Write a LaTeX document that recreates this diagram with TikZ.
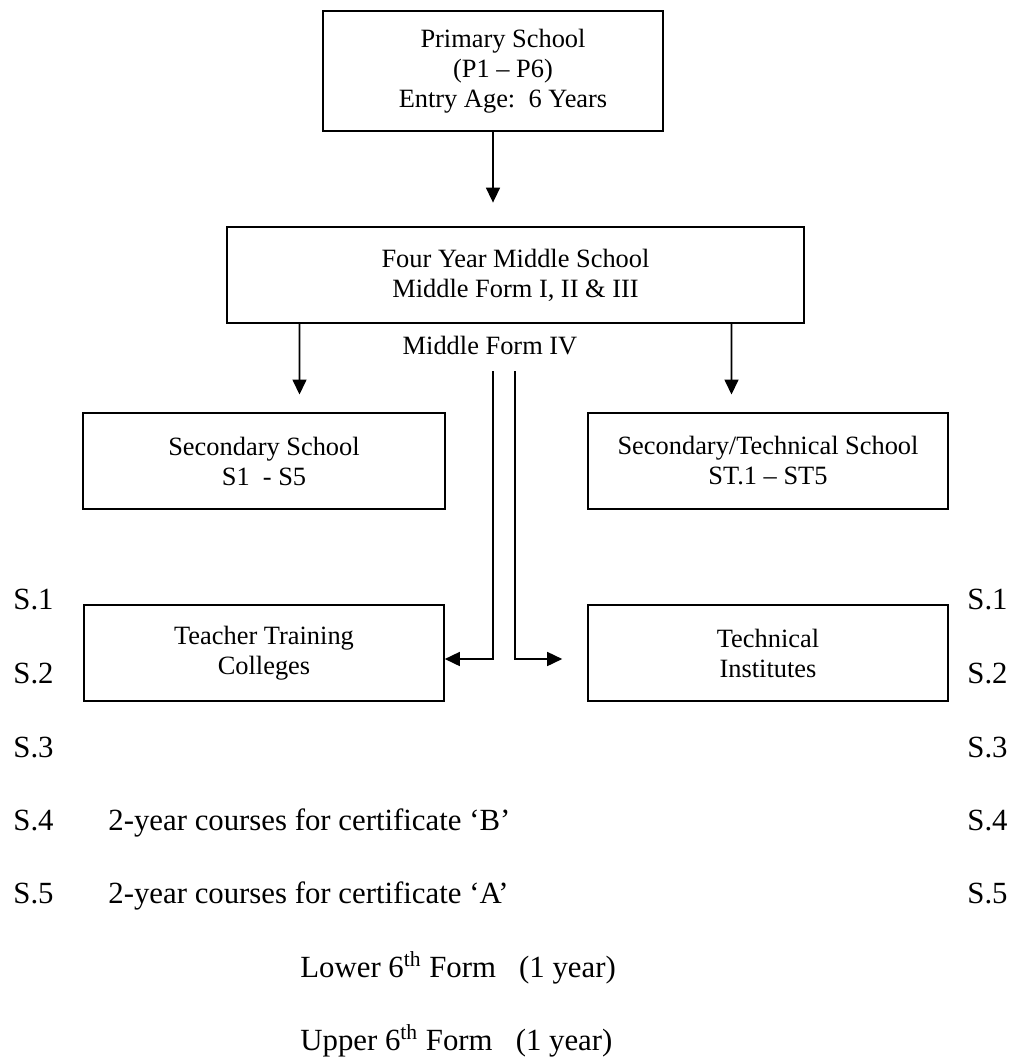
\documentclass[tikz,border=0pt]{standalone}
\usepackage{fontspec}
\setmainfont{Liberation Serif}
\usetikzlibrary{arrows.meta,calc}
\tikzset{
  stage/.style={draw, line width=.8pt, align=center, inner sep=0pt,
    minimum width=#1, minimum height=48pt},
  arr/.style={line width=.8pt, -{Triangle[length=7.5pt,width=7pt]}},
  body/.style={anchor=base west, inner sep=0pt, font=\fontsize{15.4}{18}\selectfont}
}
\begin{document}
\begin{tikzpicture}[x=.5pt,y=-.5pt,font=\fontsize{13.2}{15}\selectfont]
\useasboundingbox (0,0) rectangle (1020,1061);
\node[stage=170pt, minimum height=60pt] (prim) at (493,71) {\hspace*{10pt}\begin{tabular}{@{}c@{}}Primary School\\(P1 – P6)\\Entry Age:\ \ 6 Years\end{tabular}};
\node[stage=288.5pt] (mid) at (515.5,275) {Four Year Middle School\\Middle Form I, II \& III};
\node[stage=181pt] (sec) at (264,461) {Secondary School\\S1\ \ - S5};
\node[stage=180pt] (sect) at (768,461) {Secondary/Technical School\\ST.1 – ST5};
\node[stage=180pt] (ttc) at (264,653) {Teacher Training\\Colleges};
\node[stage=180pt] (tech) at (768,653) {Technical\\Institutes};
\node[anchor=base, inner sep=0pt] (mf4) at (490,354) {Middle Form IV};

\coordinate (la) at ([xshift=-108pt]mid.south);
\coordinate (ra) at ([xshift=108pt]mid.south);
\coordinate (ls) at (493,371);
\coordinate (rs) at (515,371);
\draw[arr] (prim.south) -- ($(prim.south)!.75!(prim.south |- mid.north)$);
\draw[arr] (la) -- ($(la)!.8!(la |- sec.north)$);
\draw[arr] (ra) -- ($(ra)!.8!(ra |- sect.north)$);
\draw[arr] (ls) |- ([yshift=-3pt]ttc.east);
\draw[arr] (rs) |- ([xshift=-12.5pt,yshift=-3pt]tech.west);

\foreach \n/\y in {1/609,2/683,3/757,4/830,5/903}{
  \node[body] (sl\n) at (13,\y) {S.\n};
  \node[body] (sr\n) at (967,\y) {S.\n};
}
\node[body] (cb) at (108,830) {2-year courses for certificate ‘B’};
\node[body] (ca) at (108,903) {2-year courses for certificate ‘A’};
\node[body] (lo) at (300,977) {Lower 6\textsuperscript{th} Form\ \ \ (1 year)};
\node[body] (up) at (300,1050) {Upper 6\textsuperscript{th} Form\ \ \ (1 year)};
\end{tikzpicture}
\end{document}
